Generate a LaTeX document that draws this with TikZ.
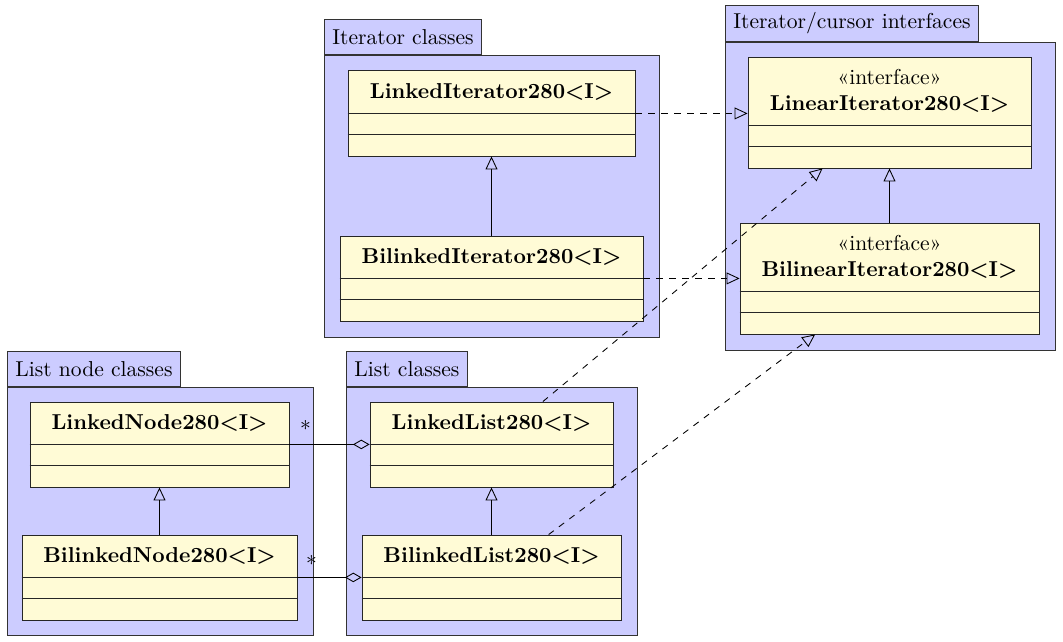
\documentclass[tikz,border=0pt]{standalone}
\usepackage{tikz}
\usetikzlibrary{arrows.meta,positioning,calc}

\newcommand{\pu}{0.0163cm}
\definecolor{pkgblue}{RGB}{204,204,255}
\definecolor{classyellow}{RGB}{255,251,214}

\tikzset{
  pkgbody/.style={draw=black!80, fill=pkgblue},
  pkgtab/.style={draw=black!80, fill=pkgblue, anchor=south west, inner xsep=3.7pt, minimum height=35*\pu},
  classnode/.style={draw=black!85, fill=classyellow},
  classname/.style={align=center, inner sep=0pt},
  classline/.style={draw=black!85},
  inherit/.style={-{Triangle[open,length=6pt,width=5.5pt]}},
  realize/.style={dashed,-{Triangle[open,length=6pt,width=5.5pt]}},
  aggreg/.style={-{Diamond[open,length=7.7pt,width=4.4pt]}},
  mult/.style={inner sep=0pt}
}

% name, x, y, width, height, name height, title
\newcommand{\classbox}[7]{%
  \node[classnode, minimum width=#4*\pu, minimum height=#5*\pu] (#1) at (#2,#3) {};
  \node[classname, minimum width=#4*\pu, minimum height=#6*\pu, below=0pt of #1.north] (#1-name) {#7};
  \draw[classline] (#1-name.south west) -- (#1-name.south east);
  \draw[classline] ($(#1-name.south west)!0.5!(#1.south west)$) -- ($(#1-name.south east)!0.5!(#1.south east)$);
}

\begin{document}
\begin{tikzpicture}[x=\pu,y=-\pu]
  \useasboundingbox (0,0) rectangle (1063,642);

  % packages
  \draw[pkgbody] (324,55) rectangle (659,337);
  \node[pkgtab] (itpkg) at (324,55) {Iterator classes};
  \draw[pkgbody] (725,42) rectangle (1055,350);
  \node[pkgtab] (ifpkg) at (725,42) {Iterator/cursor interfaces};
  \draw[pkgbody] (7,387) rectangle (313,635);
  \node[pkgtab] (ndpkg) at (7,387) {List node classes};
  \draw[pkgbody] (346,387) rectangle (637,635);
  \node[pkgtab] (lspkg) at (346,387) {List classes};

  % classes
  \classbox{lit}{491.5}{113}{287}{86}{43}{\textbf{LinkedIterator280<I>}}
  \classbox{bit}{491.5}{278.5}{303}{85}{42}{\textbf{BilinkedIterator280<I>}}
  \classbox{lin}{889.5}{112.5}{283}{111}{68}{«interface»\\\textbf{LinearIterator280<I>}}
  \classbox{bil}{889.5}{278.5}{299}{111}{68}{«interface»\\\textbf{BilinearIterator280<I>}}
  \classbox{ln}{159.5}{444.5}{259}{85}{42}{\textbf{LinkedNode280<I>}}
  \classbox{bn}{159.5}{577.5}{275}{85}{42}{\textbf{BilinkedNode280<I>}}
  \classbox{ll}{491.5}{444.5}{243}{85}{42}{\textbf{LinkedList280<I>}}
  \classbox{bl}{491.5}{577.5}{259}{85}{42}{\textbf{BilinkedList280<I>}}

  % generalisation
  \draw[inherit] (bit) -- (lit);
  \draw[inherit] (bil) -- (lin);
  \draw[inherit] (bn) -- (ln);
  \draw[inherit] (bl) -- (ll);

  % realisation
  \draw[realize] (lit-name.south east) -- (lit-name.south east -| lin.west);
  \draw[realize] (bit-name.south east) -- (bit-name.south east -| bil.west);
  \draw[realize] (ll) -- (lin);
  \draw[realize] (bl) -- (bil);

  % aggregation
  \draw[aggreg] (ln-name.south east) -- (ln-name.south east -| ll.west)
    node[mult, pos=0, xshift=16*\pu, yshift=19*\pu] {$*$};
  \draw[aggreg] (bn-name.south east) -- (bn-name.south east -| bl.west)
    node[mult, pos=0, xshift=14*\pu, yshift=17*\pu] {$*$};
\end{tikzpicture}
\end{document}
